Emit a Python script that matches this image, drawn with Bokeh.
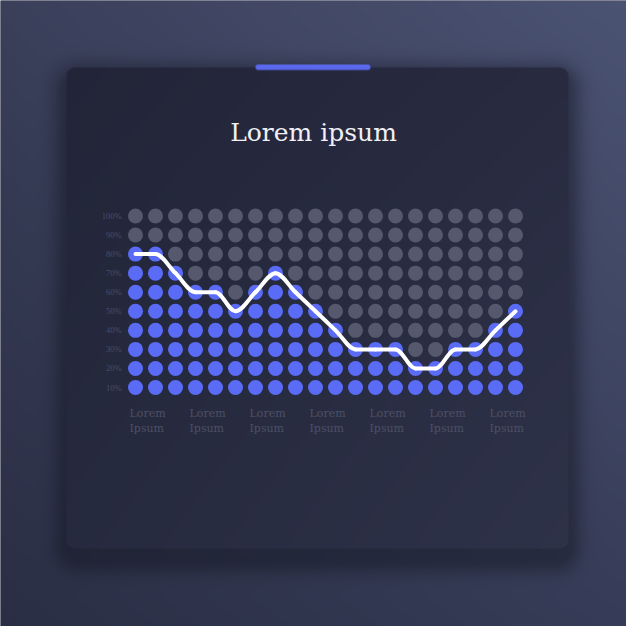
import numpy as np
from bokeh.plotting import figure
from bokeh.models import Range1d, ColumnDataSource
from bokeh.core.properties import value
from bokeh.embed import file_html
from bokeh.resources import INLINE

# ---------------- data ----------------
title_text = "Lorem ipsum"
columns = list(range(20))
filled_dots = [8, 8, 7, 6, 6, 5, 6, 7, 6, 5, 4, 3, 3, 3, 2, 2, 3, 3, 4, 5]   # blue dots per column
levels = [10, 20, 30, 40, 50, 60, 70, 80, 90, 100]
level_labels = ["10%", "20%", "30%", "40%", "50%", "60%", "70%", "80%", "90%", "100%"]
x_label_cols = [0, 3, 6, 9, 12, 15, 18]
x_labels = ["Lorem\nIpsum"] * 7

# ---------------- layout ----------------
W = H = 626
X0, DX = 135.0, 20.0      # figure px of column 0, px per column
Y10, SY = 387.0, 1.9056   # figure px of the 10% row, px per percent

x_range = Range1d(-X0 / DX, (W - X0) / DX)
y_range = Range1d(10 - (H - Y10) / SY, 10 + Y10 / SY)

def data_x(px):
    return (px - X0) / DX

def data_y(py):
    return 10 + (Y10 - py) / SY

p = figure(width=W, height=H, x_range=x_range, y_range=y_range,
           x_axis_type=None, y_axis_type=None, toolbar_location=None,
           output_backend="svg", min_border=0)
p.grid.visible = False
p.outline_line_color = None
p.background_fill_color = "#2c3146"
p.border_fill_color = "#2c3146"

# ---------------- decorative background image ----------------
yy, xx = np.mgrid[0:H, 0:W].astype(float) + 0.5

def bilinear(c_tl, c_tr, c_bl, c_br, u, v):
    c = [np.array([int(h[i:i + 2], 16) for i in (1, 3, 5)], float) for h in (c_tl, c_tr, c_bl, c_br)]
    u = u[..., None]; v = v[..., None]
    top = c[0] * (1 - u) + c[1] * u
    bot = c[2] * (1 - u) + c[3] * u
    return top * (1 - v) + bot * v

def rr_sdf(x0, y0, x1, y1, r):
    cx, cy = (x0 + x1) / 2, (y0 + y1) / 2
    bx, by = (x1 - x0) / 2, (y1 - y0) / 2
    qx = np.abs(xx - cx) - bx + r
    qy = np.abs(yy - cy) - by + r
    outside = np.sqrt(np.maximum(qx, 0) ** 2 + np.maximum(qy, 0) ** 2)
    inside = np.minimum(np.maximum(qx, qy), 0)
    return outside + inside - r

img = bilinear("#3a3f5a", "#4b5373", "#292e44", "#363c57", xx / 626, yy / 626)

# shadow
card = (66, 67, 568, 548)
d_sh = rr_sdf(card[0] + 2, card[1] + 10, card[2] - 2, card[3] + 10, 12)
a_sh = 0.45 * np.exp(-np.maximum(d_sh, 0) ** 2 / (2 * 11.0 ** 2))
shadow_col = np.array([18, 20, 32], float)
img = img * (1 - a_sh[..., None]) + shadow_col * a_sh[..., None]

# card
d_card = rr_sdf(*card, 9)
a_card = np.clip(0.5 - d_card, 0, 1)[..., None]
u = np.clip((xx - card[0]) / (card[2] - card[0]), 0, 1)
v = np.clip((yy - card[1]) / (card[3] - card[1]), 0, 1)
card_col = bilinear("#222538", "#282b40", "#262a3e", "#2e3249", u, v)
img = img * (1 - a_card) + card_col * a_card

# accent bar
d_bar = rr_sdf(255, 64, 370, 69.5, 2.7)
a_bar = np.clip(0.5 - d_bar, 0, 1)[..., None]
img = img * (1 - a_bar) + np.array([90, 104, 238], float) * a_bar

rgba = np.empty((H, W), dtype=np.uint32)
view = rgba.view(dtype=np.uint8).reshape((H, W, 4))
view[..., :3] = np.clip(np.round(img), 0, 255).astype(np.uint8)
view[..., 3] = 255
rgba = np.flipud(rgba)

p.image_rgba(image=[rgba], x=x_range.start, y=y_range.start,
             dw=x_range.end - x_range.start, dh=y_range.end - y_range.start)

# ---------------- dots ----------------
dx_, dy_, dc_ = [], [], []
for c, n in zip(columns, filled_dots):
    for lv in levels:
        dx_.append(c)
        dy_.append(lv)
        dc_.append("#5a6cf6" if lv <= n * 10 else "#56596e")
p.scatter(x="x", y="y", color="c", size=15, line_color=None,
          source=ColumnDataSource(dict(x=dx_, y=dy_, c=dc_)))

# ---------------- smooth line (monotone cubic rendered as beziers) ----------------
vals = [n * 10 for n in filled_dots]
d = [vals[i + 1] - vals[i] for i in range(len(vals) - 1)]
m = [0.0] * len(vals)
for i in range(1, len(vals) - 1):
    m[i] = (d[i - 1] + d[i]) / 2 if d[i - 1] * d[i] > 0 else 0.0
m[-1] = d[-1]
bz = dict(x0=[], y0=[], x1=[], y1=[], cx0=[], cy0=[], cx1=[], cy1=[])
for i in range(len(vals) - 1):
    bz["x0"].append(columns[i]); bz["y0"].append(vals[i])
    bz["x1"].append(columns[i + 1]); bz["y1"].append(vals[i + 1])
    bz["cx0"].append(columns[i] + 1 / 3); bz["cy0"].append(vals[i] + m[i] / 3)
    bz["cx1"].append(columns[i + 1] - 1 / 3); bz["cy1"].append(vals[i + 1] - m[i + 1] / 3)
p.bezier(x0="x0", y0="y0", x1="x1", y1="y1", cx0="cx0", cy0="cy0", cx1="cx1", cy1="cy1",
         source=ColumnDataSource(bz), line_color="#ffffff", line_width=4, line_cap="round")

# ---------------- texts ----------------
p.text(x=[0] * len(levels), y=levels, text=level_labels, x_offset=-14,
       text_align="right", text_baseline="middle", text_font=value("Liberation Serif"),
       text_font_size="8.5px", text_color="#4a4d63")

p.text(x=x_label_cols, y=[10] * len(x_label_cols), text=x_labels, x_offset=-6, y_offset=19,
       text_align="left", text_baseline="top", text_font=value("DejaVu Serif"),
       text_font_size="11px", text_color="#4c5068", text_line_height=1.2)

p.text(x=[data_x(313)], y=[data_y(132)], text=[title_text], text_align="center",
       text_baseline="alphabetic", text_font=value("DejaVu Serif"), text_font_size="25px",
       text_color="#f0f0f4")

open("out.html", "w").write(file_html(p, INLINE))
